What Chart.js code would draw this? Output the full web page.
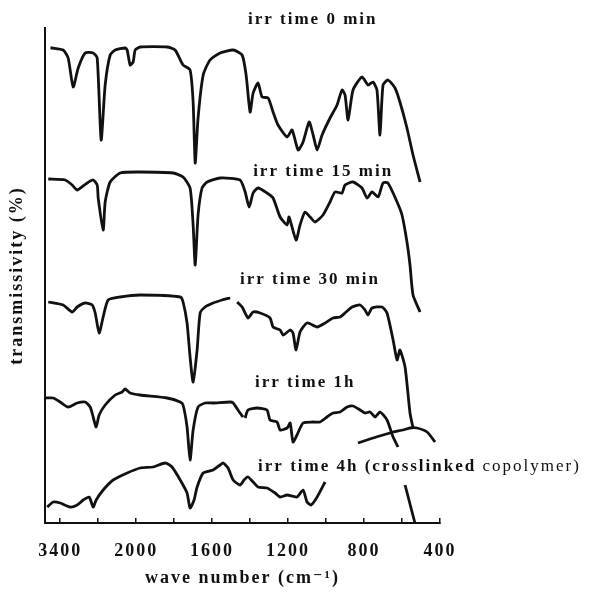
<!DOCTYPE html>
<html>
<head>
<meta charset="utf-8">
<script src="https://cdn.jsdelivr.net/npm/chart.js@4.4.1/dist/chart.umd.min.js"></script>
<style>
  body { margin: 0; background: #fff; }
  #wrap { width: 590px; height: 594px; }
</style>
</head>
<body>
<div id="wrap"><canvas id="irChart" width="590" height="594"></canvas></div>
<script>
// axis: wave number ticks (scale changes at 2000)
var tickWaves = [3400, 2700, 2000, 1800, 1600, 1400, 1200, 1000, 800, 600, 400];
var labelWaves = [3400, 2000, 1600, 1200, 800, 400];

var seriesNames = ['irr time 0 min', 'irr time 15 min', 'irr time 30 min', 'irr time 1h',
    'irr time 4h (crosslinked copolymer)'];

// spectra (transmissivity in arbitrary offset units, null = break)
var wave0 = [3580,3550,3345,3253,3161,3068,2940,2792,2718,2645,2571,2479,2387,2203,2166,2111,2055,2018,1979,1837,
    1795,1753,1716,1700,1689,1674,1647,1611,1558,1489,1442,1421,1400,1384,1358,1337,1305,1279,1253,1205,
    1179,1147,1121,1089,1068,1047,1021,979,942,916,900,884,858,811,779,753,732,716,700,674,637,611,574,542,505];
var trans0 = [475,475,473,465,436,455,470,470,465,383,438,468,473,475,473,458,461,473,476,476,
    473,458,453,421,360,405,448,463,470,473,468,448,411,430,440,426,425,411,398,386,
    393,373,381,401,388,373,388,405,418,433,428,403,433,446,438,441,433,388,438,443,435,421,395,368,341];

var wave15 = [3620,3308,3179,3087,2903,2792,2718,2700,2608,2571,2479,2295,1979,1805,1753,1716,1700,1689,1674,1653,
    1626,1558,1453,1426,1405,1384,1358,1311,1279,1242,1205,1195,1158,1137,1111,1084,1058,1016,979,953,
    916,900,858,811,784,758,726,700,674,626,600,574,558,542,505];
var trans15 = [344,343,338,333,340,343,338,325,293,321,341,350,351,350,346,335,298,258,308,335,
    341,345,343,331,316,330,335,330,325,306,298,306,283,298,311,306,301,308,321,331,
    330,338,341,335,325,331,326,340,340,321,308,281,258,228,211];

var wave30 = [3620,3345,3179,3087,2940,2811,2755,2682,2608,2516,2295,1979,1768,1753,1732,1716,1700,1679,1663,1637,
    1595,1547,1505,1490,1468,1442,1411,1384,1347,1295,1279,1242,1226,1189,1174,1158,1137,1100,1047,1005,
    963,926,900,863,821,795,779,758,705,679,647,626,611,584,558,542,560,584,532];
var trans30 = [221,218,211,216,220,218,210,190,206,223,226,228,226,221,200,166,141,173,210,216,
    220,223,225,null,221,216,205,211,210,205,196,193,188,193,190,173,191,200,196,200,
    205,206,210,216,218,213,208,215,216,210,183,163,173,156,110,95,null,38,0];

var wave1h = [3680,3530,3400,3253,3087,2940,2847,2792,2737,2682,2571,2387,2258,2203,2111,1979,1837,1768,1753,1732,
    1716,1700,1674,1637,1595,1505,1489,1453,1437,1430,1426,1411,1363,1311,1295,1258,1242,1205,1189,1174,
    1153,1121,1068,1032,995,963,926,889,858,821,795,768,742,716,679,647,621,700,832,753,700,647,595,558,521,468,426];
var trans1h = [125,125,121,116,120,121,116,106,96,108,118,128,131,134,130,128,125,121,118,96,
    63,93,116,120,120,121,120,110,106,null,105,113,115,113,103,101,93,95,100,81,
    88,100,101,101,106,110,111,116,117,113,110,111,106,111,103,86,76,null,80,85,88,91,93,95,95,91,81];

var wave4h = [3640,3529,3400,3216,3087,2976,2866,2792,2737,2608,2424,2166,1979,1911,1847,1811,1768,1732,1716,1695,
    1679,1647,1595,1558,1542,1516,1489,1453,1432,1411,1384,1358,1311,1268,1242,1205,1153,1121,1100,1079,1047,1005];
var trans4h = [16,21,20,16,18,23,26,16,23,33,43,50,55,56,60,56,43,30,15,23,
    36,50,53,58,60,55,43,38,43,46,41,36,35,30,26,28,26,33,21,18,26,41];

// posição no eixo: 3400-2000 ocupa uma divisão, depois 400 por divisão
function waveToPos(w) {
    return w >= 2000 ? (3400 - w) / 1400 : 1 + (2000 - w) / 400;
}

class WaveScale extends Chart.LinearScale {
    determineDataLimits() {
        this.min = this.options.posMin;
        this.max = this.options.posMax;
    }
    buildTicks() {
        return tickWaves.map(v => ({ value: v }));
    }
    getPixelForValue(v) {
        if (v === null || v === undefined) return NaN;
        return super.getPixelForValue(waveToPos(v));
    }
}
WaveScale.id = 'wavenumber';
WaveScale.defaults = {};
Chart.register(WaveScale);

function pairs(ws, ts) {
    return ws.map((w, i) => ({ x: w, y: ts[i] }));
}

var series = [
    pairs(wave0, trans0), pairs(wave15, trans15), pairs(wave30, trans30),
    pairs(wave1h, trans1h), pairs(wave4h, trans4h)
];

var serif = '"Liberation Serif", "DejaVu Serif", serif';

// rótulos das curvas
var textPlugin = {
    id: 'spectraText',
    beforeDraw(chart) {
        chart.ctx.letterSpacing = '2px';
    },
    afterDatasetsDraw(chart) {
        const ctx = chart.ctx;
        const x = chart.scales.x, y = chart.scales.y;
        const anchors = [[1411, 503], [1384, 351], [1453, 243], [1374, 140], [1358, 56]];
        ctx.save();
        ctx.fillStyle = '#111';
        ctx.textAlign = 'left';
        ctx.textBaseline = 'middle';
        seriesNames.forEach((name, i) => {
            let px = x.getPixelForValue(anchors[i][0]);
            let py = y.getPixelForValue(anchors[i][1]);
            let cut = name.indexOf(' copolymer');
            let head = cut > 0 ? name.slice(0, cut) : name;
            ctx.font = 'bold 17px ' + serif;
            ctx.fillText(head, px, py);
            if (cut > 0) {
                let wHead = ctx.measureText(head).width;
                ctx.font = '17px ' + serif;
                ctx.fillText(name.slice(cut), px + wHead, py);
            }
        });
        ctx.restore();
    }
};

var ctx = document.getElementById('irChart').getContext('2d');
var irChart = new Chart(ctx, {
    type: 'line',
    data: {
        datasets: series.map((d, i) => ({
            label: seriesNames[i],
            data: d,
            borderColor: '#111',
            borderWidth: 2.8,
            pointRadius: 0,
            tension: 0.2,
            spanGaps: false,
            clip: 6
        }))
    },
    options: {
        responsive: false,
        animation: false,
        parsing: true,
        layout: { padding: { top: 28, right: 150, left: 0, bottom: 0 } },
        plugins: { legend: { display: false }, tooltip: { enabled: false } },
        scales: {
            x: {
                type: 'wavenumber',
                position: 'bottom',
                posMin: -0.2,
                posMax: 5.0,
                afterFit: s => { s.height = 71; },
                border: { display: true, color: '#111', width: 2 },
                grid: { display: true, drawOnChartArea: false, drawTicks: true, tickLength: -5, color: '#111', lineWidth: 1.5 },
                ticks: {
                    autoSkip: false,
                    maxRotation: 0,
                    padding: 23,
                    color: '#111',
                    font: { family: serif, size: 18, weight: 'bold' },
                    callback: v => labelWaves.includes(v) ? String(v) : ''
                },
                title: {
                    display: true,
                    text: 'wave number (cm\u207B\u00B9)',
                    color: '#111',
                    font: { family: serif, size: 18, weight: 'bold' },
                    padding: { top: 0, bottom: 5 }
                }
            },
            y: {
                type: 'linear',
                min: 0,
                max: 495,
                afterFit: s => { s.width = 45; },
                border: { display: true, color: '#111', width: 2 },
                grid: { display: false },
                ticks: { display: false },
                title: {
                    display: true,
                    text: 'transmissivity (%)',
                    color: '#111',
                    font: { family: serif, size: 18, weight: 'bold' },
                    padding: { top: 7, bottom: 0 }
                }
            }
        }
    },
    plugins: [textPlugin]
});
</script>
</body>
</html>
